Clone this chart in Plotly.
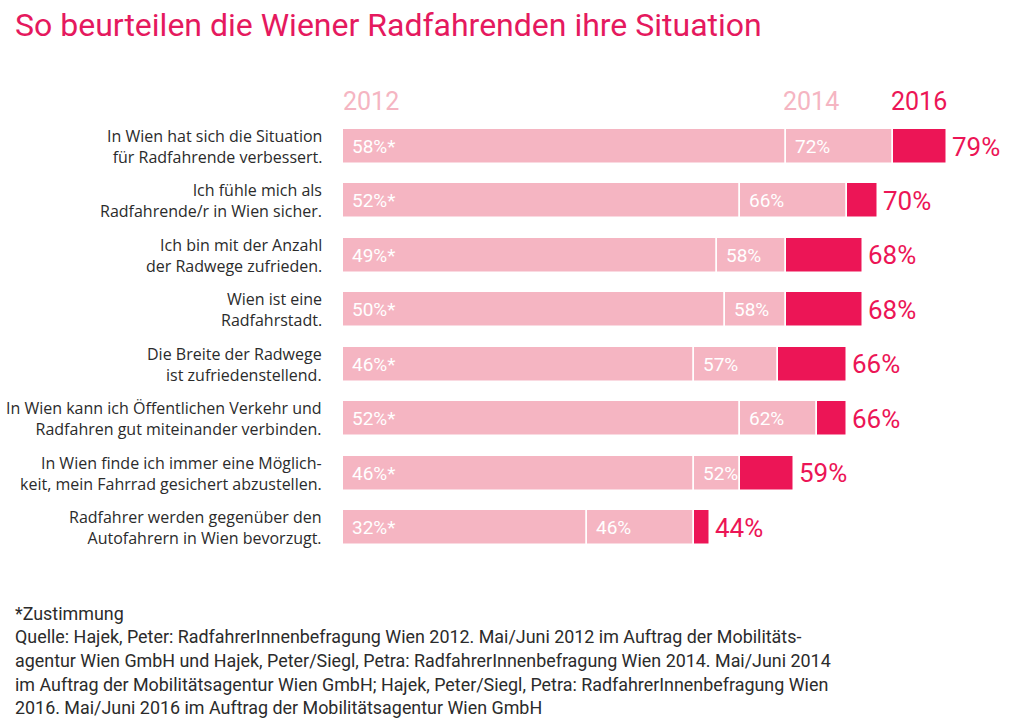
import plotly.graph_objects as go

categories = [
    "In Wien hat sich die Situation<br>für Radfahrende verbessert.",
    "Ich fühle mich als<br>Radfahrende/r in Wien sicher.",
    "Ich bin mit der Anzahl<br>der Radwege zufrieden.",
    "Wien ist eine<br>Radfahrstadt.",
    "Die Breite der Radwege<br>ist zufriedenstellend.",
    "In Wien kann ich Öffentlichen Verkehr und<br>Radfahren gut miteinander verbinden.",
    "In Wien finde ich immer eine Möglich-<br>keit, mein Fahrrad gesichert abzustellen.",
    "Radfahrer werden gegenüber den<br>Autofahrern in Wien bevorzugt.",
]
v2012 = [58, 52, 49, 50, 46, 52, 46, 32]
v2014 = [72, 66, 58, 58, 57, 62, 52, 46]
v2016 = [79, 70, 68, 68, 66, 66, 59, 44]
# drawn end of the 2016 bar as seen in the picture (last row is drawn past 46%)
v2016_bar_end = [79, 70, 68, 68, 66, 66, 59, 48]
years = ["2012", "2014", "2016"]

LIGHT = "#f5b5c2"
DARK = "#ec1556"
TITLE = "#e5195e"

W, H = 1024, 718
X0 = 343
PX_PER_PCT = 7.64
ROW0 = 146.5
ROW_STEP = 54.43

ys = list(range(len(categories)))

fig = go.Figure()
seg1 = v2012
seg2 = [b - a for a, b in zip(v2012, v2014)]
seg3 = [c - b for b, c in zip(v2014, v2016_bar_end)]
common = dict(orientation="h", width=0.645, marker_line_color="white", marker_line_width=1.5,
              hoverinfo="skip", showlegend=False)
fig.add_trace(go.Bar(y=ys, x=seg1, base=[0] * len(ys), marker_color=LIGHT, **common))
fig.add_trace(go.Bar(y=ys, x=seg2, base=v2012, marker_color=LIGHT, **common))
fig.add_trace(go.Bar(y=ys, x=seg3, base=v2014, marker_color=DARK, **common))

ann = []
def ypx(p):
    return 1 - p / H

# title
ann.append(dict(text="So beurteilen die Wiener Radfahrenden ihre Situation", xref="paper", yref="paper",
                x=13 / W, y=ypx(25), xanchor="left", yanchor="middle", showarrow=False,
                font=dict(family="Roboto", size=32, color=TITLE)))
# year headers
hdr_x = [0, v2012[0], v2014[0]]
hdr_col = [LIGHT, LIGHT, DARK]
hdr_shift = [-2, -5, -4]
for yr, hx, hc, hs in zip(years, hdr_x, hdr_col, hdr_shift):
    ann.append(dict(text=yr, xref="x", yref="paper", x=hx, y=ypx(102), xanchor="left", yanchor="middle",
                    xshift=hs, showarrow=False, font=dict(family="Roboto", size=25, color=hc)))

for i, cat in enumerate(categories):
    ann.append(dict(text=cat, xref="paper", yref="y", x=324 / W, y=i, xanchor="right", yanchor="middle",
                    align="right", showarrow=False,
                    font=dict(family="Open Sans", size=16, color="#2b2b2b")))
    ann.append(dict(text=f"{v2012[i]}%*", xref="x", yref="y", x=0, y=i, xanchor="left", yanchor="middle",
                    xshift=7, showarrow=False, font=dict(family="Roboto", size=19, color="white")))
    ann.append(dict(text=f"{v2014[i]}%", xref="x", yref="y", x=v2012[i], y=i, xanchor="left",
                    yanchor="middle", xshift=7, showarrow=False,
                    font=dict(family="Roboto", size=19, color="white")))
    ann.append(dict(text=f"{v2016[i]}%", xref="x", yref="y", x=v2016_bar_end[i], y=i, xanchor="left",
                    yanchor="middle", xshift=3, showarrow=False,
                    font=dict(family="Roboto", size=26, color=DARK)))

foot = [
    "*Zustimmung",
    "Quelle: Hajek, Peter: RadfahrerInnenbefragung Wien 2012. Mai/Juni 2012 im Auftrag der Mobilitäts-",
    "agentur Wien GmbH und Hajek, Peter/Siegl, Petra: RadfahrerInnenbefragung Wien 2014. Mai/Juni 2014",
    "im Auftrag der Mobilitätsagentur Wien GmbH; Hajek, Peter/Siegl, Petra: RadfahrerInnenbefragung Wien",
    "2016. Mai/Juni 2016 im Auftrag der Mobilitätsagentur Wien GmbH",
]
foot_y = [613, 636, 660, 684, 707]
for t, fy in zip(foot, foot_y):
    ann.append(dict(text=t, xref="paper", yref="paper", x=13 / W, y=ypx(fy), xanchor="left",
                    yanchor="middle", showarrow=False,
                    font=dict(family="Roboto", size=17.9, color="#2b2b2b")))

x_max = (W - X0) / PX_PER_PCT
y_top = -ROW0 / ROW_STEP
y_bot = (H - ROW0) / ROW_STEP

fig.update_layout(
    width=W, height=H, margin=dict(l=0, r=0, t=0, b=0),
    paper_bgcolor="white", plot_bgcolor="white",
    barmode="overlay", bargap=0,
    xaxis=dict(domain=[X0 / W, 1], range=[0, x_max], visible=False, fixedrange=True),
    yaxis=dict(domain=[0, 1], range=[y_bot, y_top], visible=False, fixedrange=True),
    annotations=ann,
)

fig.write_html("out.html")
